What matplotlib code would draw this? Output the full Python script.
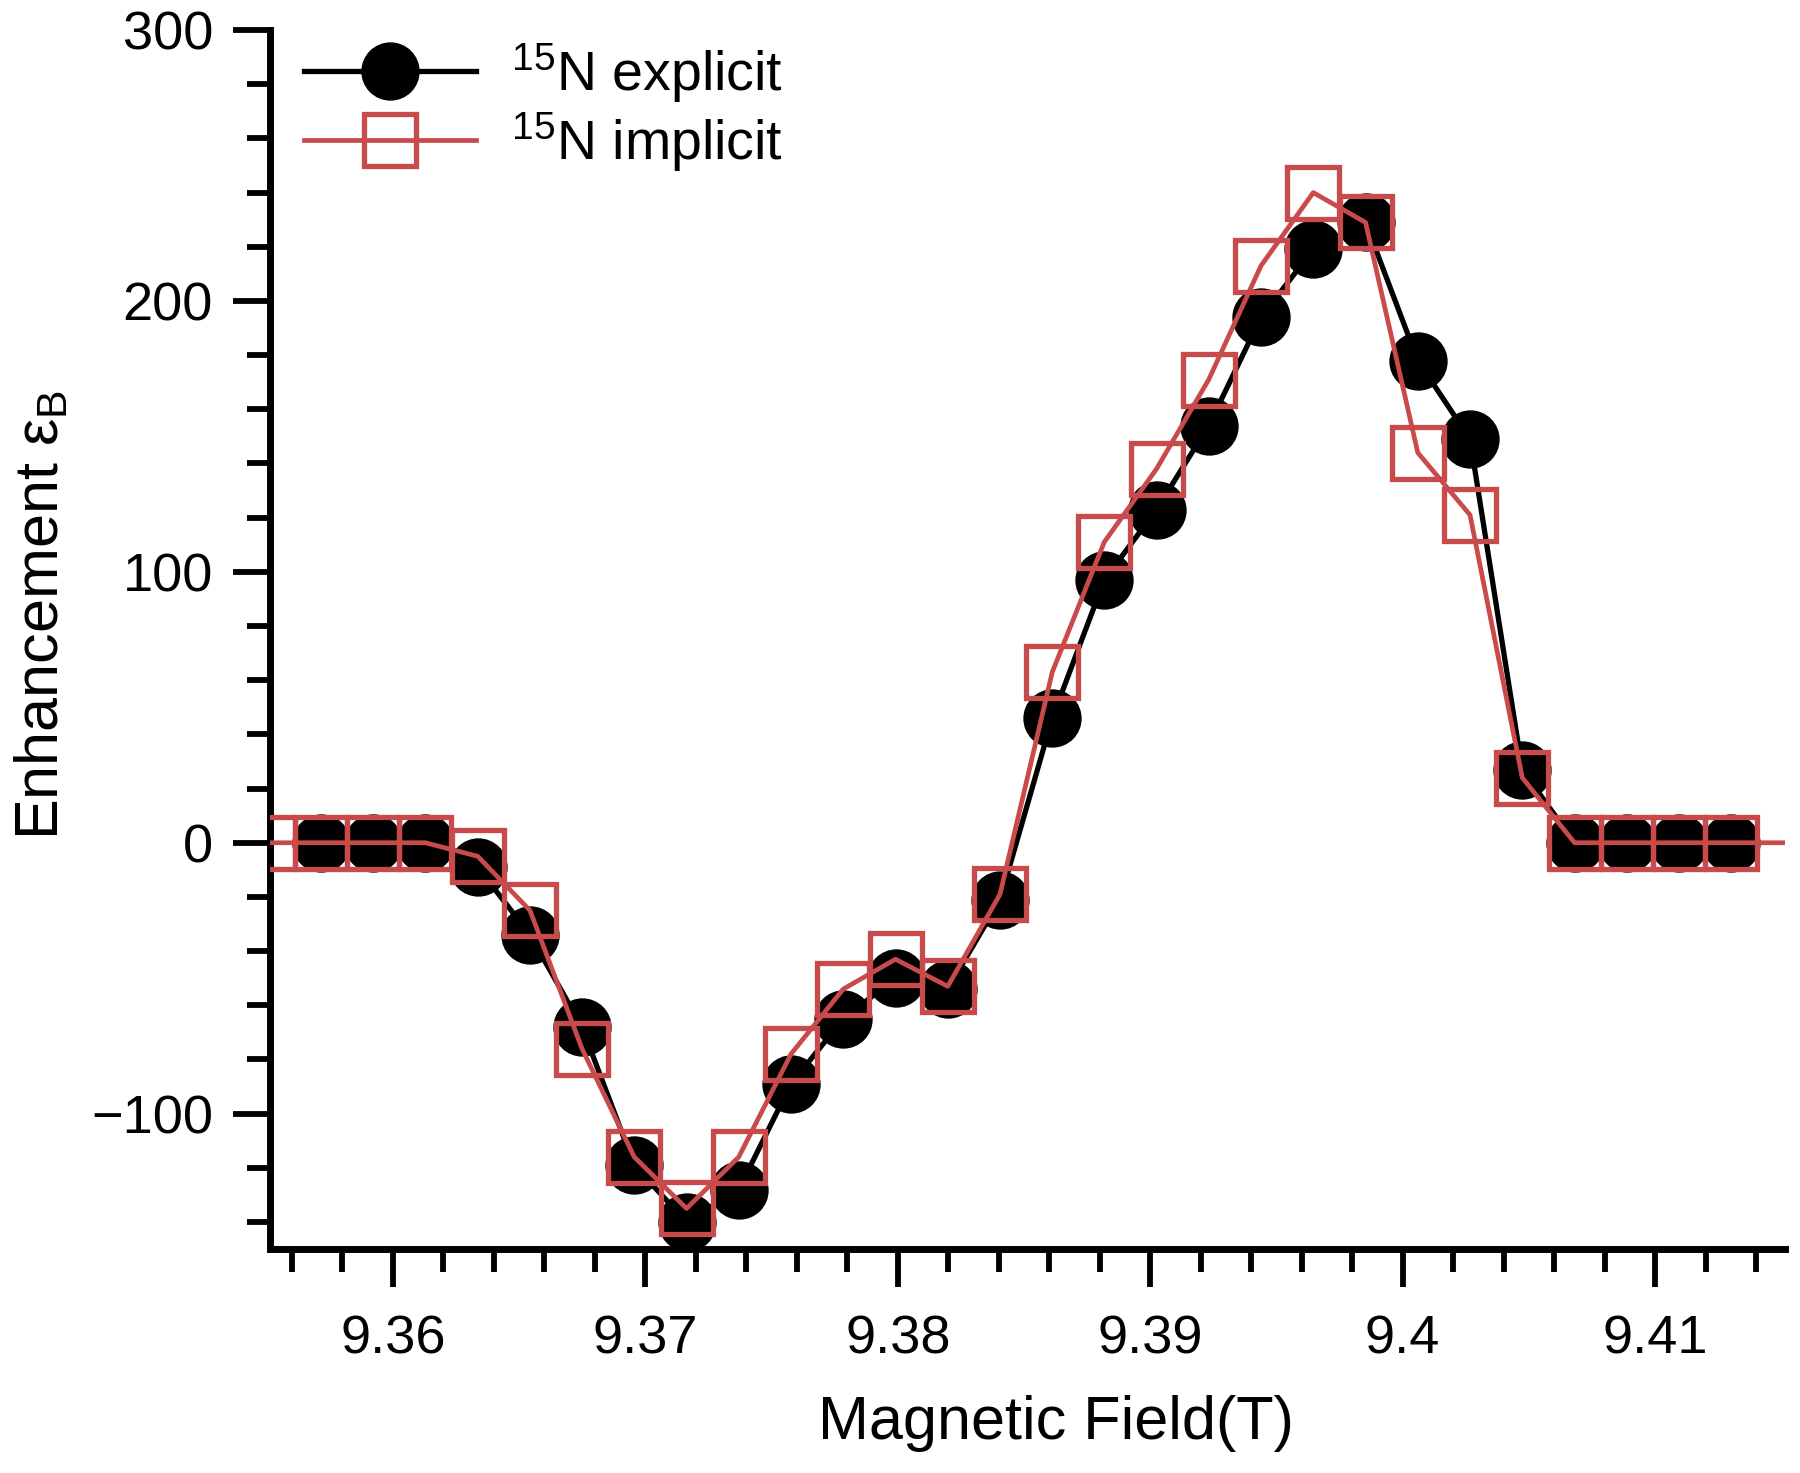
import matplotlib
matplotlib.use('Agg')
import matplotlib.pyplot as plt
from matplotlib.ticker import MultipleLocator, FixedLocator, FixedFormatter

plt.rcParams['font.family'] = ['Liberation Sans', 'DejaVu Sans']
plt.rcParams['mathtext.fontset'] = 'custom'
plt.rcParams['mathtext.rm'] = 'Liberation Sans'
plt.rcParams['mathtext.it'] = 'Liberation Sans:italic'
plt.rcParams['mathtext.bf'] = 'Liberation Sans:bold'

# magnetic field (T) for the explicit simulation
field_explicit = [9.35715, 9.35922, 9.36129, 9.36336, 9.36543, 9.36749, 9.36956,
                  9.37163, 9.37370, 9.37577, 9.37784, 9.37991, 9.38198, 9.38405,
                  9.38612, 9.38818, 9.39025, 9.39232, 9.39439, 9.39646, 9.39853,
                  9.40060, 9.40267, 9.40474, 9.40681, 9.40887, 9.41094, 9.41301]
enh_explicit = [0, 0, 0, -9, -34, -68, -119, -140, -128, -89, -65, -50, -54, -21,
                46, 97, 123, 154, 194, 219, 229, 178, 149, 27, 0, 0, 0, 0]

# implicit simulation (one extra point either side)
field_implicit = [9.35508, 9.35715, 9.35922, 9.36129, 9.36336, 9.36543, 9.36749,
                  9.36956, 9.37163, 9.37370, 9.37577, 9.37784, 9.37991, 9.38198,
                  9.38405, 9.38612, 9.38818, 9.39025, 9.39232, 9.39439, 9.39646,
                  9.39853, 9.40060, 9.40267, 9.40474, 9.40681, 9.40887, 9.41094,
                  9.41301, 9.41710]
enh_implicit = [0, 0, 0, 0, -5, -25, -76, -116, -135, -116, -78, -54, -43, -53,
                -19, 63, 111, 138, 171, 213, 240, 229, 144, 121, 24, 0, 0, 0, 0, 0]

x_major = [9.36, 9.37, 9.38, 9.39, 9.40, 9.41]
x_labels = ['9.36', '9.37', '9.38', '9.39', '9.4', '9.41']
y_major = [-100, 0, 100, 200, 300]

red = '#C94A4A'

fig = plt.figure(figsize=(18, 14.73), dpi=100)
ax = fig.add_axes([0.15, 0.152, 0.8417, 0.8276])

ax.plot(field_explicit, enh_explicit, color='black', lw=3.8, marker='o',
        ms=41, mfc='black', mec='black', label=r'$^{15}$N explicit', zorder=3)
ax.plot(field_implicit, enh_implicit, color=red, lw=3.4, marker='s',
        ms=38, mfc='none', mec=red, mew=3.8, label=r'$^{15}$N implicit', zorder=4)

ax.set_xlim(9.35513, 9.41515)
ax.set_ylim(-150, 300)

for s in ('top', 'right'):
    ax.spines[s].set_visible(False)
for s in ('left', 'bottom'):
    ax.spines[s].set_linewidth(5)

ax.xaxis.set_major_locator(FixedLocator(x_major))
ax.xaxis.set_major_formatter(FixedFormatter(x_labels))
ax.xaxis.set_minor_locator(MultipleLocator(0.002))
ax.yaxis.set_major_locator(FixedLocator(y_major))
ax.yaxis.set_minor_locator(MultipleLocator(20))

ax.tick_params(which='major', length=27, width=4.2, direction='out', labelsize=39)
ax.tick_params(which='minor', length=16.5, width=4.2, direction='out')
ax.tick_params(axis='x', which='major', pad=20)
ax.tick_params(axis='y', which='major', pad=14)

ax.set_xlabel('Magnetic Field(T)', fontsize=44, labelpad=22)
ax.set_ylabel('Enhancement ε$_{\\mathrm{B}}$', fontsize=44, labelpad=14)
ax.xaxis.label.set_x(0.519)
ax.yaxis.label.set_y(0.52)

ax.legend(loc='upper left', bbox_to_anchor=(0.169, 0.972),
          bbox_transform=fig.transFigure, frameon=False, fontsize=40,
          handlelength=3.1, handletextpad=0.63, labelspacing=0.1,
          borderpad=0, borderaxespad=0)

fig.savefig('out.png', dpi=100)
